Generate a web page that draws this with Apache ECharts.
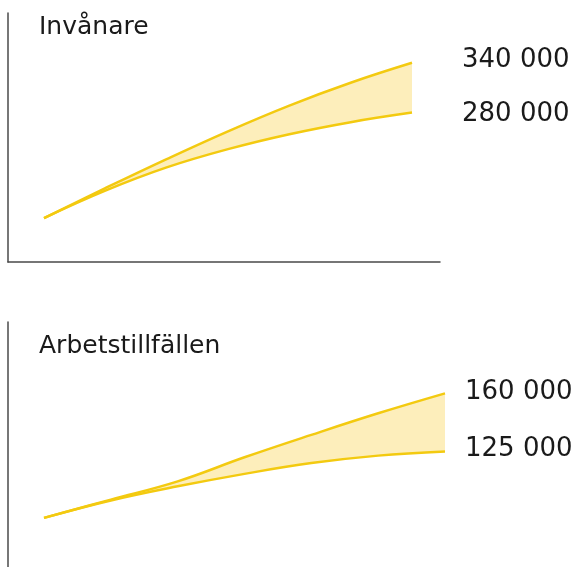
<!DOCTYPE html>
<html>
<head>
<meta charset="utf-8">
<script src="https://cdn.jsdelivr.net/npm/echarts@6/dist/echarts.min.js"></script>
<style>
  html, body { margin: 0; padding: 0; background: #fff; }
  #chart { width: 583px; height: 567px; }
</style>
</head>
<body>
<div id="chart"></div>
<script>
// years along the (unlabelled) time axis
const years = ['2010', '2015', '2020', '2025', '2030', '2035', '2040'];

// Invånare (inhabitants) - high and low scenario
const invHigh = [153000, 189000, 224000, 257500, 288500, 316000, 340000];
const invLow = [153000, 186000, 214000, 236000, 254000, 268500, 280000];

// Arbetstillfällen (jobs) - high and low scenario
const jobHigh = [85000, 96000, 107000, 121500, 135000, 148000, 160000];
const jobLow = [85000, 95500, 104000, 111500, 118000, 122500, 125000];

const lineColor = '#f3ca10';
const bandColor = '#fdeebb';
const textColor = '#1a1a1a';
const font = 'DejaVu Sans';

function fmt(v) {
  return String(v).replace(/\B(?=(\d{3})+(?!\d))/g, ' ');
}

// band between the two scenarios (stacked: low + difference)
function bandSeries(idx, low, high, name) {
  return [
    {
      type: 'line', xAxisIndex: idx, yAxisIndex: idx, stack: name,
      data: low, smooth: 0.4, symbol: 'none', silent: true,
      lineStyle: {opacity: 0}, z: 1
    },
    {
      type: 'line', xAxisIndex: idx, yAxisIndex: idx, stack: name,
      data: high.map((v, i) => v - low[i]), smooth: 0.4, symbol: 'none', silent: true,
      lineStyle: {opacity: 0}, areaStyle: {color: bandColor, opacity: 1}, z: 1
    }
  ];
}

function edgeSeries(idx, values, dist, dy) {
  return {
    type: 'line', xAxisIndex: idx, yAxisIndex: idx,
    data: values, smooth: 0.4, symbol: 'none',
    lineStyle: {color: lineColor, width: 2.5}, z: 3,
    endLabel: {
      show: true,
      formatter: p => fmt(p.value),
      distance: dist,
      offset: [0, dy],
      color: textColor,
      fontFamily: font,
      fontSize: 26
    }
  };
}

const axisLine = {show: true, lineStyle: {color: '#4a4a4a', width: 1.5}};
const hidden = {axisTick: {show: false}, axisLabel: {show: false}, splitLine: {show: false}};

const chart = echarts.init(document.getElementById('chart'), null, {renderer: 'canvas'});
chart.setOption({
  animation: false,
  backgroundColor: '#fff',
  title: [
    {text: 'Invånare', left: 34, top: 10, textStyle: {fontFamily: font, fontSize: 25, fontWeight: 'normal', color: textColor}},
    {text: 'Arbetstillfällen', left: 34, top: 329, textStyle: {fontFamily: font, fontSize: 25, fontWeight: 'normal', color: textColor}}
  ],
  grid: [
    // data areas
    {left: 44, top: 13, width: 368, height: 249},
    {left: 44, top: 322, width: 401, height: 245},
    // frames
    {left: 8, top: 13, width: 432, height: 249},
    {left: 8, top: 322, width: 464, height: 245}
  ],
  xAxis: [
    {type: 'category', gridIndex: 0, data: years, boundaryGap: false, axisLine: {show: false}, ...hidden},
    {type: 'category', gridIndex: 1, data: years, boundaryGap: false, axisLine: {show: false}, ...hidden},
    {type: 'value', gridIndex: 2, min: 0, max: 1, axisLine: axisLine, ...hidden},
    {type: 'value', gridIndex: 3, min: 0, max: 1, axisLine: {show: false}, ...hidden}
  ],
  yAxis: [
    {type: 'value', gridIndex: 0, min: 100000, max: 400000, axisLine: {show: false}, ...hidden},
    {type: 'value', gridIndex: 1, min: 55400, max: 203000, axisLine: {show: false}, ...hidden},
    {type: 'value', gridIndex: 2, min: 0, max: 1, axisLine: axisLine, ...hidden},
    {type: 'value', gridIndex: 3, min: 0, max: 1, axisLine: axisLine, ...hidden}
  ],
  series: [
    ...bandSeries(0, invLow, invHigh, 'inv'),
    ...bandSeries(1, jobLow, jobHigh, 'job'),
    edgeSeries(0, invHigh, 50, -3),
    edgeSeries(0, invLow, 50, 2),
    edgeSeries(1, jobHigh, 20, -1),
    edgeSeries(1, jobLow, 20, -2)
  ]
});
</script>
</body>
</html>
